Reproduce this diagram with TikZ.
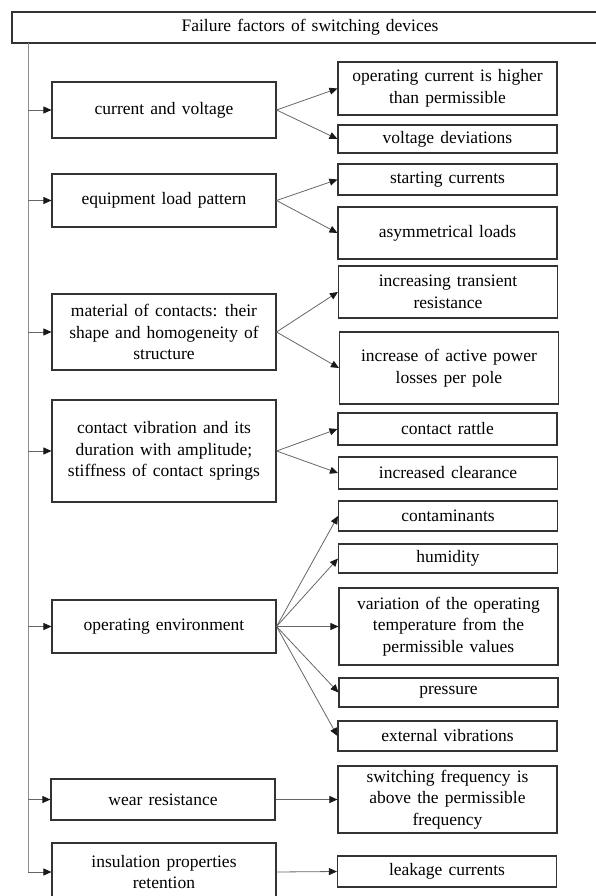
\documentclass[tikz,border=0pt]{standalone}
\usepackage{fontspec}
\setmainfont{Liberation Serif}[WordSpace=1.4]
\usetikzlibrary{arrows.meta}

\begin{document}
\begin{tikzpicture}[x=1pt, y=-1pt,
        box/.style={draw=black!80, line width=1.1pt, align=center, inner sep=0pt,
            font=\fontsize{17.5}{21.5}\selectfont},
        cause/.style={box, minimum width=224pt},
        effect/.style={box, minimum width=219pt},
        >={Triangle[length=8pt,width=7pt,color=black!90]},
        link/.style={->, draw=black!60, line width=0.8pt},
        trunkline/.style={draw=black!45, line width=1pt}]
        \useasboundingbox (0,0) rectangle (596,896);
        \clip (0,0) rectangle (596,896);
        % heading
        \node[box, minimum width=596pt, minimum height=31pt] (title) at (310,27.5) {Failure factors of switching devices};
        \coordinate (trunk) at (28,43);
        % factors
        \node[cause, minimum height=56pt] (c1) at (164,110) {current and voltage};
        \node[cause, minimum height=53pt] (c2) at (164,200.5) {equipment load pattern};
        \node[cause, minimum height=76pt] (c3) at (164,332) {material of contacts: their\\shape and homogeneity of\\structure};
        \node[cause, minimum height=102pt] (c4) at (164,451) {contact vibration and its\\duration with amplitude;\\stiffness of contact springs};
        \node[cause, minimum height=53pt] (c5) at (164,626.5) {operating environment};
        \node[cause, minimum height=41pt] (c6) at (163,799.5) {wear resistance};
        \node[cause, minimum height=58pt] (c7) at (164,872) {insulation properties\\retention};
        % consequences
        \node[effect, minimum height=53pt] (e1) at (447.5,88.5) {operating current is higher\\than permissible};
        \node[effect, minimum height=28pt] (e2) at (447.5,139) {voltage deviations};
        \node[effect, minimum height=31pt] (e3) at (447.5,179.5) {starting currents};
        \node[effect, minimum height=52pt] (e4) at (447.5,233) {asymmetrical loads};
        \node[effect, minimum height=52pt] (e5) at (448,292) {increasing transient\\resistance};
        \node[effect, minimum height=72pt] (e6) at (449,368) {increase of active power\\losses per pole};
        \node[effect, minimum height=32pt] (e7) at (447.5,429) {contact rattle};
        \node[effect, minimum height=32pt] (e8) at (448,473) {increased clearance};
        \node[effect, minimum height=30pt] (e9) at (448,516) {contaminants};
        \node[effect, minimum height=29pt] (e10) at (448,558.5) {humidity};
        \node[effect, minimum height=77pt] (e11) at (448.5,626.5) {variation of the operating\\temperature from the\\permissible values};
        \node[effect, minimum height=29pt] (e12) at (448.5,692.5) {pressure};
        \node[effect, minimum height=30pt] (e13) at (447.5,736) {external vibrations};
        \node[effect, minimum height=67pt] (e14) at (447.5,799.5) {switching frequency is\\above the permissible\\frequency};
        \node[effect, minimum height=31pt] (e15) at (447,871.5) {leakage currents};
        % connectors
        \draw[trunkline] (trunk) -- (trunk |- c7.west);
        \foreach \n in {1,...,7}
            \draw[link] (trunk |- c\n.west) -- (c\n.west);
        \foreach \a/\b in {c1/e1, c1/e2, c2/e3, c2/e4, c3/e5, c3/e6, c4/e7, c4/e8,
            c5/e9, c5/e10, c5/e11, c5/e12, c5/e13, c6/e14, c7/e15}
            \draw[link] (\a.east) -- (\b.west);
\end{tikzpicture}
\end{document}
